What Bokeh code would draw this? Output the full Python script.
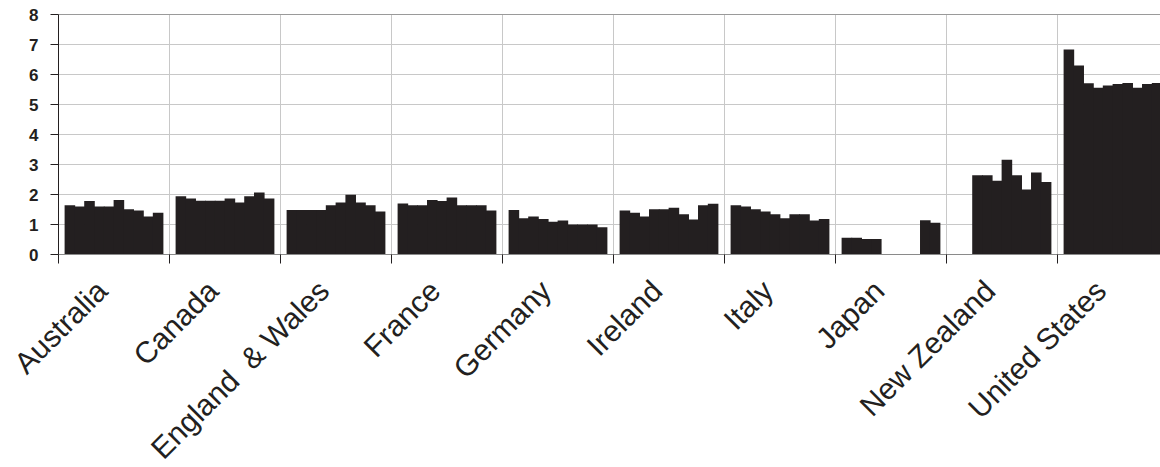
import math
from bokeh.plotting import figure
from bokeh.models import ColumnDataSource, Range1d
from bokeh.core.properties import value
from bokeh.embed import file_html
from bokeh.resources import INLINE

# Country groups, ten yearly values each (None = no data for that year)
countries = ["Australia", "Canada", "England\u00a0 & Wales", "France", "Germany",
             "Ireland", "Italy", "Japan", "New Zealand", "United States"]

australia = [1.64, 1.60, 1.78, 1.60, 1.60, 1.82, 1.51, 1.47, 1.27, 1.39]
canada = [1.94, 1.87, 1.79, 1.79, 1.79, 1.87, 1.73, 1.94, 2.07, 1.87]
england_wales = [1.48, 1.48, 1.48, 1.48, 1.64, 1.73, 1.99, 1.73, 1.64, 1.43]
france = [1.70, 1.64, 1.64, 1.82, 1.78, 1.90, 1.64, 1.64, 1.64, 1.47]
germany = [1.48, 1.21, 1.27, 1.18, 1.09, 1.13, 1.00, 1.00, 1.00, 0.91]
ireland = [1.47, 1.39, 1.27, 1.51, 1.51, 1.56, 1.34, 1.17, 1.64, 1.69]
italy = [1.64, 1.60, 1.51, 1.43, 1.34, 1.21, 1.34, 1.34, 1.13, 1.18]
japan = [0.56, 0.56, 0.52, 0.52, None, None, None, None, 1.14, 1.06]
new_zealand = [None, None, 2.64, 2.64, 2.46, 3.16, 2.64, 2.17, 2.73, 2.42]
united_states = [6.83, 6.30, 5.71, 5.56, 5.63, 5.68, 5.72, 5.56, 5.68, 5.72]

y_ticks = [0, 1, 2, 3, 4, 5, 6, 7, 8]

series = [australia, canada, england_wales, france, germany,
          ireland, italy, japan, new_zealand, united_states]

INK = "#231f20"
GRID = "#c8c8c8"
FONT = "Liberation Sans"

# canvas geometry (pixels)
W, H = 1160, 467
LEFT = 58          # x pixel of the value axis
BASE = 254         # y pixel of the zero line
PX_X = 111.0       # pixels per country group
PX_Y = 30.0        # pixels per unit of value

n_years = 10
bar_w = 0.0883  # width of one yearly bar, in group units

xs, tops = [], []
for gi, vals in enumerate(series):
    for j, v in enumerate(vals):
        if v is None:
            continue
        xs.append(gi + (j - (n_years - 1) / 2) * bar_w)
        tops.append(v)

bars = ColumnDataSource(dict(x=xs, top=tops))

axis_x = -0.5                      # left edge of the first group
x_start = axis_x - LEFT / PX_X
x_end = x_start + W / PX_X
y_end = BASE / PX_Y
y_start = -(H - BASE) / PX_Y

# the frame fills the whole canvas; axes are drawn in data space
p = figure(width=W, height=H, output_backend="svg", toolbar_location=None,
           x_range=Range1d(x_start, x_end), y_range=Range1d(y_start, y_end),
           min_border_left=0, min_border_right=0, min_border_top=0,
           min_border_bottom=0, x_axis_type=None, y_axis_type=None)
p.outline_line_color = None
p.background_fill_color = "white"
p.border_fill_color = "white"

y_lo, y_hi = y_ticks[0], y_ticks[-1]
bounds = [i - 0.5 for i in range(len(countries))]
inner_y = y_ticks[1:-1]

# grid lines inside the plotting area
p.segment(x0=bounds[1:], y0=[y_lo] * (len(bounds) - 1),
          x1=bounds[1:], y1=[y_hi] * (len(bounds) - 1),
          line_color=GRID, line_width=1)
p.segment(x0=[axis_x] * len(inner_y), y0=inner_y,
          x1=[x_end] * len(inner_y), y1=inner_y,
          line_color=GRID, line_width=1)
p.segment(x0=[axis_x], y0=[y_hi], x1=[x_end], y1=[y_hi],
          line_color="#9a9a9a", line_width=1)

# slight overlap avoids hairline seams between neighbouring bars
p.vbar(x="x", top="top", bottom=0, width=bar_w + 0.007, source=bars,
       fill_color=INK, line_color=None)

# zero line and value axis line
p.segment(x0=[axis_x], y0=[y_lo], x1=[x_end], y1=[y_lo],
          line_color="#8a8a8a", line_width=1)
p.segment(x0=[axis_x], y0=[y_lo], x1=[axis_x], y1=[y_hi],
          line_color=INK, line_width=1)

# tick marks
p.ray(x=[axis_x] * len(y_ticks), y=y_ticks, length=8, length_units="screen",
      angle=math.pi, line_color=INK, line_width=1)
p.ray(x=bounds, y=[y_lo] * len(bounds), length=9, length_units="screen",
      angle=-math.pi / 2, line_color=INK, line_width=1)

# value labels
p.text(x=[axis_x] * len(y_ticks), y=y_ticks, text=[str(t) for t in y_ticks],
       x_offset=-20, text_align="right", text_baseline="middle",
       text_font=value(FONT), text_font_style="bold",
       text_font_size=value("17px"), text_color=INK)

# rotated country names under each group
label_shift = 0.11    # names end slightly left of the group centre
label_depth = 31      # pixels below the zero line
names = ColumnDataSource(dict(
    x=[i - label_shift for i in range(len(countries))],
    y=[y_lo - label_depth / PX_Y] * len(countries),
    text=countries))
p.text(x="x", y="y", text="text", source=names, angle=math.pi / 4,
       text_align="right", text_baseline="middle",
       text_font=value(FONT), text_font_size=value("30px"), text_color=INK)

open("out.html", "w").write(file_html(p, INLINE))
